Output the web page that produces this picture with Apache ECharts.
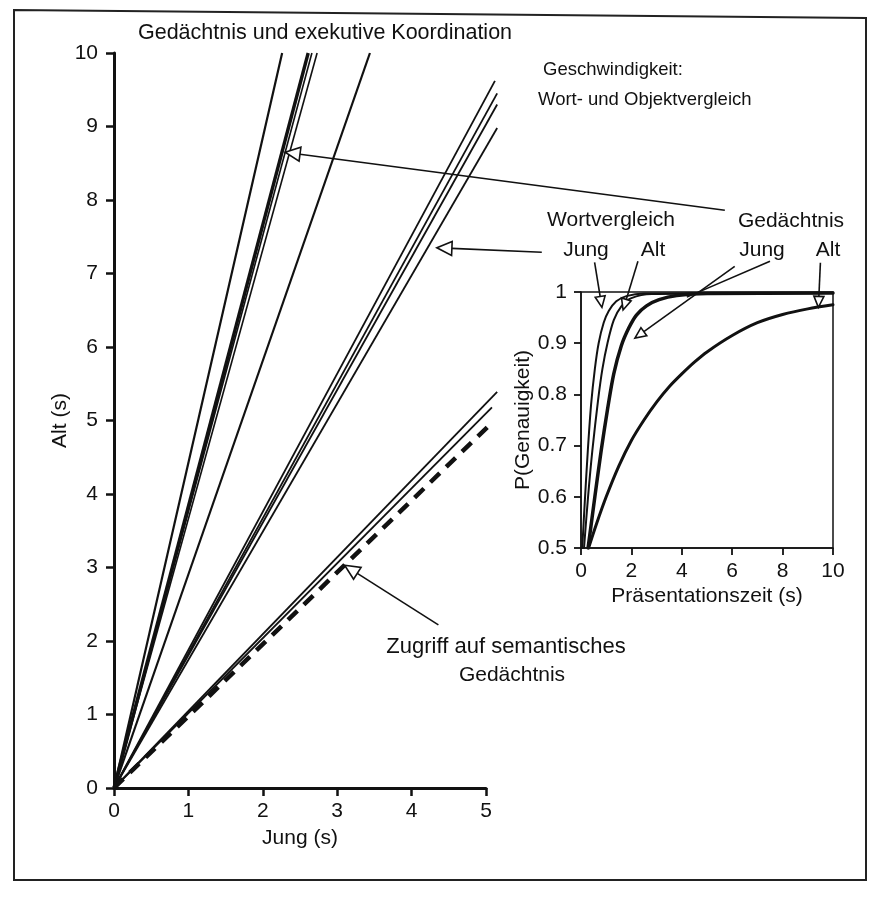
<!DOCTYPE html>
<html>
<head>
<meta charset="utf-8">
<script src="https://cdn.jsdelivr.net/npm/echarts@6/dist/echarts.min.js"></script>
<style>
  html, body { margin: 0; padding: 0; background: #fff; }
  #chart { width: 880px; height: 897px; }
</style>
</head>
<body>
<div id="chart"></div>
<script>
// Brinley plot: response time of older adults (Alt) against younger adults (Jung),
// one straight line per task domain, all starting at the origin.
// Each entry is the far end point [Jung, Alt] of a line from (0, 0).
const memoryEnds   = [[2.26, 10], [2.61, 10], [2.66, 10], [2.73, 10], [3.44, 10]];
const speedEnds    = [[5.12, 9.62], [5.15, 9.45], [5.15, 9.30], [5.15, 8.98]];
const semanticEnds = [[5.15, 5.39], [5.08, 5.18]];
const identityEnd  = [5.03, 4.92];

// Inset: accuracy P against presentation time (s)
const wortJung = [[0.05, 0.5], [0.15, 0.59], [0.27, 0.69], [0.40, 0.78], [0.55, 0.85], [0.70, 0.90],
                  [0.90, 0.94], [1.1, 0.963], [1.4, 0.982], [1.8, 0.992], [2.5, 0.997], [10, 0.998]];
const wortAlt  = [[0.12, 0.5], [0.28, 0.60], [0.45, 0.69], [0.68, 0.79], [0.85, 0.85], [1.05, 0.90],
                  [1.3, 0.945], [1.6, 0.972], [2.0, 0.988], [2.8, 0.996], [10, 0.998]];
const gedJung  = [[0.28, 0.5], [0.55, 0.60], [0.80, 0.69], [1.05, 0.77], [1.3, 0.84], [1.6, 0.895],
                  [1.9, 0.93], [2.2, 0.955], [2.6, 0.973], [3.1, 0.985], [3.8, 0.993], [5.0, 0.997], [10, 0.998]];
const gedAlt   = [[0.3, 0.50], [0.6, 0.545], [1.0, 0.60], [1.5, 0.66], [2.0, 0.71], [2.5, 0.75],
                  [3.0, 0.785], [3.5, 0.815], [4.0, 0.84], [4.5, 0.863], [5.0, 0.883], [6.0, 0.915],
                  [7.0, 0.94], [8.0, 0.956], [9.0, 0.967], [10, 0.975]];

// Pointer arrows, given in the data units of the grid they belong to
const mainArrows = [
  { tail: [8.21, 7.86], tip: [2.30, 8.65] },
  { tail: [5.75, 7.29], tip: [4.34, 7.35] },
  { tail: [4.36, 2.22], tip: [3.10, 3.03] }
];
const insetArrows = [
  { tail: [0.54, 1.058], tip: [0.83, 0.970], head: true },
  { tail: [2.26, 1.060], tip: [1.67, 0.965], head: true },
  { tail: [7.50, 1.060], tip: [4.20, 0.990], head: false },
  { tail: [6.10, 1.050], tip: [2.14, 0.910], head: true },
  { tail: [9.50, 1.057], tip: [9.42, 0.970], head: true }
];

const FONT = "'Liberation Sans', Arial, Helvetica, sans-serif";
const INK = '#111';

const memoryWidths = [2.2, 3.4, 1.6, 1.6, 2.2];

// Main plot extent; the lines run a little past the end of the Jung axis,
// so they live on an invisible overlay grid with the same scale.
const MAIN = { left: 114, top: 53, width: 372, height: 735, xMax: 5, overMax: 5.2 };

const chart = echarts.init(document.getElementById('chart'), null, { renderer: 'canvas' });

function straight(end, width, type, z) {
  return {
    type: 'line', xAxisIndex: 2, yAxisIndex: 2,
    data: [[0, 0], end], symbol: 'none', silent: true,
    lineStyle: { color: INK, width: width, type: type || 'solid' }, z: z || 2
  };
}
function curve(data, width) {
  return {
    type: 'line', xAxisIndex: 1, yAxisIndex: 1,
    data: data, symbol: 'none', smooth: 0.3, silent: true,
    lineStyle: { color: INK, width: width, join: 'round', cap: 'round' }, z: 3
  };
}

const series = [];
memoryEnds.forEach((e, i) => series.push(straight(e, memoryWidths[i])));
speedEnds.forEach(e => series.push(straight(e, 1.8)));
semanticEnds.forEach(e => series.push(straight(e, 1.8)));
series.push(straight(identityEnd, 4.5, [13, 9], 1));
series.push(curve(wortJung, 2));
series.push(curve(wortAlt, 2));
series.push(curve(gedJung, 3.5));
series.push(curve(gedAlt, 3));

const axisText = { color: INK, fontSize: 21, fontFamily: FONT };

chart.setOption({
  animation: false,
  backgroundColor: '#fff',
  grid: [
    { left: MAIN.left, top: MAIN.top, width: MAIN.width, height: MAIN.height },
    { left: 581, top: 292, width: 252, height: 256, show: true, borderColor: INK, borderWidth: 1.5, backgroundColor: 'transparent' },
    { left: MAIN.left, top: MAIN.top, width: MAIN.width * MAIN.overMax / MAIN.xMax, height: MAIN.height }
  ],
  xAxis: [
    {
      gridIndex: 0, type: 'value', min: 0, max: MAIN.xMax, interval: 1,
      axisLine: { onZero: false, lineStyle: { color: INK, width: 3 } },
      axisTick: { length: 8, lineStyle: { color: INK, width: 2.5 } },
      axisLabel: Object.assign({ margin: 13 }, axisText),
      splitLine: { show: false },
      name: 'Jung (s)', nameLocation: 'middle', nameGap: 40, nameTextStyle: axisText
    },
    {
      gridIndex: 1, type: 'value', min: 0, max: 10, interval: 2,
      axisLine: { onZero: false, lineStyle: { color: INK, width: 1.5 } },
      axisTick: { length: 7, lineStyle: { color: INK, width: 1.8 } },
      axisLabel: Object.assign({ margin: 13 }, axisText),
      splitLine: { show: false },
      name: 'Präsentationszeit (s)', nameLocation: 'middle', nameGap: 38, nameTextStyle: axisText
    },
    { gridIndex: 2, type: 'value', min: 0, max: MAIN.overMax, show: false }
  ],
  yAxis: [
    {
      gridIndex: 0, type: 'value', min: 0, max: 10, interval: 1,
      axisLine: { onZero: false, lineStyle: { color: INK, width: 3 } },
      axisTick: { length: 8, lineStyle: { color: INK, width: 2.5 } },
      axisLabel: Object.assign({ margin: 16 }, axisText),
      splitLine: { show: false },
      name: 'Alt (s)', nameLocation: 'middle', nameRotate: 90, nameGap: 41, nameTextStyle: axisText
    },
    {
      gridIndex: 1, type: 'value', min: 0.5, max: 1, interval: 0.1,
      axisLine: { onZero: false, lineStyle: { color: INK, width: 1.5 } },
      axisTick: { length: 7, lineStyle: { color: INK, width: 1.8 } },
      axisLabel: Object.assign({ margin: 14, formatter: v => String(Math.round(v * 10) / 10) }, axisText),
      splitLine: { show: false },
      name: 'P(Genauigkeit)', nameLocation: 'middle', nameRotate: 90, nameGap: 44, nameTextStyle: axisText
    },
    { gridIndex: 2, type: 'value', min: 0, max: 10, show: false }
  ],
  series: series
});

// Annotations: texts, pointer lines and open triangular arrow heads
function px(gridIndex, p) { return chart.convertToPixel({ gridIndex: gridIndex }, p); }

function arrow(tail, tip, head, len, half) {
  const dx = tip[0] - tail[0], dy = tip[1] - tail[1];
  const d = Math.hypot(dx, dy), ux = dx / d, uy = dy / d;
  const out = [];
  const bx = head ? tip[0] - ux * len : tip[0];
  const by = head ? tip[1] - uy * len : tip[1];
  out.push({ type: 'line', shape: { x1: tail[0], y1: tail[1], x2: bx, y2: by },
             style: { stroke: INK, lineWidth: 1.6 }, z: 20 });
  if (head) {
    out.push({ type: 'polygon',
      shape: { points: [tip, [bx - uy * half, by + ux * half], [bx + uy * half, by - ux * half]] },
      style: { fill: '#fff', stroke: INK, lineWidth: 1.6 }, z: 21 });
  }
  return out;
}

function label(text, x, y, size, align) {
  return { type: 'text', x: x, y: y, z: 22,
    style: { text: text, fill: INK, font: size + 'px ' + FONT, textAlign: align || 'center', textVerticalAlign: 'middle' } };
}

const graphics = [
  { type: 'polygon', shape: { points: [[14, 10], [866, 18], [866, 880], [14, 880]] },
    style: { fill: 'none', stroke: '#222', lineWidth: 2 }, z: 0 },
  label('Gedächtnis und exekutive Koordination', 325, 33, 21.5),
  label('Geschwindigkeit:', 543, 70, 18.5, 'left'),
  label('Wort- und Objektvergleich', 538, 100, 18.5, 'left'),
  label('Zugriff auf semantisches', 506, 647, 22),
  label('Gedächtnis', 512, 675, 21),
  label('Wortvergleich', 611, 220, 21),
  label('Jung', 586, 250, 21),
  label('Alt', 653, 250, 21),
  label('Gedächtnis', 791, 221, 21),
  label('Jung', 762, 250, 21),
  label('Alt', 828, 250, 21)
];
mainArrows.forEach(a => graphics.push(...arrow(px(0, a.tail), px(0, a.tip), true, 15, 7)));
insetArrows.forEach(a => graphics.push(...arrow(px(1, a.tail), px(1, a.tip), a.head, 11, 5)));

chart.setOption({ graphic: graphics });
</script>
</body>
</html>
